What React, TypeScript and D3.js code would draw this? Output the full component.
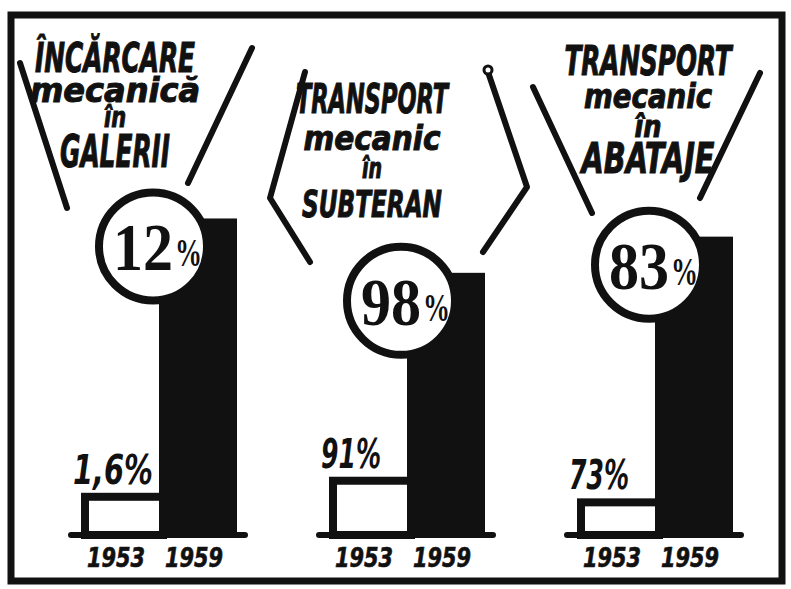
import React, { useEffect, useRef } from 'react';
import * as d3 from 'd3';

const years = ['1953', '1959'];
const titles = [
  ['ÎNCĂRCARE', 'mecanică', 'în', 'GALERII'],
  ['TRANSPORT', 'mecanic', 'în', 'SUBTERAN'],
  ['TRANSPORT', 'mecanic', 'în', 'ABATAJE'],
];
const share1953 = [1.6, 91, 73];
const share1959 = [12, 98, 83];
const labels1953 = ['1,6%', '91%', '73%'];
const labels1959 = ['12', '98', '83'];
// every panel has its own (broken) value axis, like in the original drawing
const axisDomains = [[0, 12.7], [89, 100.5], [71.6, 84.4]];

// title placement: anchor x, first baseline, line offsets, font sizes, line widths
const titleLayout = [
  { x: 115, y: 72, dy: [0, 30, 55, 95], size: [40, 34, 28, 44], len: [160, 170, 22, 110] },
  { x: 372, y: 113, dy: [0, 37, 65, 104], size: [40, 34, 28, 37], len: [152, 137, 20, 140] },
  { x: 648, y: 75, dy: [0, 33, 62, 98], size: [40, 34, 30, 42], len: [167, 128, 27, 133] },
];

// funnel / bracket strokes above each panel
const funnels = [
  [[[20, 63], [67, 208]], [[252, 48], [188, 183]]],
  [[[305, 72], [270, 198], [310, 262]], [[488, 72], [527, 187], [483, 252]]],
  [[[533, 87], [592, 213]], [[760, 73], [700, 198]]],
];

const W = 791, H = 589;
const baseY = 535, topY = 200;
const titleFont = '"DejaVu Sans Condensed", "DejaVu Sans", sans-serif';
const serifFont = '"Liberation Serif", "DejaVu Serif", serif';

export default function App() {
  const ref = useRef<SVGSVGElement>(null);

  useEffect(() => {
    const svg = d3.select(ref.current);
    svg.selectAll('*').remove();

    svg.append('rect').attr('width', W).attr('height', H).attr('fill', '#fff');

    // frame
    svg.append('rect')
      .attr('x', 11).attr('y', 15).attr('width', 771).attr('height', 566)
      .attr('fill', 'none').attr('stroke', '#111').attr('stroke-width', 7);

    const panelX = d3.scalePoint<number>().domain([0, 1, 2]).range([81, 577]);
    const xYear = d3.scaleBand().domain(years).range([0, 156]);
    const line = d3.line();

    titles.forEach((lines, i) => {
      const x0 = panelX(i)!;
      const y = d3.scaleLinear().domain(axisDomains[i]).range([baseY, topY]);
      const g = svg.append('g');

      // funnel strokes
      funnels[i].forEach(pts => {
        g.append('path')
          .attr('d', line(pts as [number, number][]))
          .attr('fill', 'none').attr('stroke', '#111').attr('stroke-width', 6)
          .attr('stroke-linecap', 'round').attr('stroke-linejoin', 'round');
      });
      if (i === 1) {
        const p = funnels[i][1][0];
        g.append('circle').attr('cx', p[0]).attr('cy', p[1] - 2).attr('r', 4)
          .attr('fill', '#fff').attr('stroke', '#111').attr('stroke-width', 3);
      }

      // title
      const tl = titleLayout[i];
      lines.forEach((t, k) => {
        g.append('text')
          .attr('x', tl.x).attr('y', tl.y + tl.dy[k])
          .attr('text-anchor', 'middle')
          .attr('font-family', titleFont)
          .attr('font-weight', 'bold').attr('font-style', 'italic')
          .attr('font-size', tl.size[k])
          .attr('textLength', tl.len[k]).attr('lengthAdjust', 'spacingAndGlyphs')
          .attr('fill', '#111').attr('stroke', '#111').attr('stroke-width', 1)
          .text(t);
      });

      // 1953 bar (outlined)
      const bx = x0 + xYear('1953')!;
      const bw = xYear.bandwidth();
      const yLow = y(share1953[i]);
      g.append('rect')
        .attr('x', bx + 4).attr('y', yLow + 4)
        .attr('width', bw).attr('height', baseY - yLow - 4)
        .attr('fill', '#fff').attr('stroke', '#111').attr('stroke-width', 8);

      // 1959 bar (solid)
      const dx = x0 + xYear('1959')!;
      const yHigh = y(share1959[i]);
      g.append('rect')
        .attr('x', dx).attr('y', yHigh)
        .attr('width', bw).attr('height', baseY - yHigh)
        .attr('fill', '#111');

      // ground line
      g.append('line')
        .attr('x1', x0 - 10).attr('x2', dx + bw + 8)
        .attr('y1', baseY).attr('y2', baseY)
        .attr('stroke', '#111').attr('stroke-width', 6).attr('stroke-linecap', 'round');

      // 1953 value
      g.append('text')
        .attr('x', bx - 8).attr('y', yLow - 9)
        .attr('font-family', titleFont)
        .attr('font-weight', 'bold').attr('font-style', 'italic')
        .attr('font-size', 40)
        .attr('textLength', labels1953[i].length * 20).attr('lengthAdjust', 'spacingAndGlyphs')
        .attr('fill', '#111')
        .text(labels1953[i]);

      // 1959 value in the bubble
      const cx = dx - 6, cy = yHigh + 28;
      g.append('circle').attr('cx', cx).attr('cy', cy).attr('r', 54)
        .attr('fill', '#fff').attr('stroke', '#111').attr('stroke-width', 8);
      g.append('text')
        .attr('x', cx + 20).attr('y', cy + 24)
        .attr('text-anchor', 'end')
        .attr('font-family', serifFont).attr('font-weight', 'bold')
        .attr('font-size', 68)
        .attr('textLength', 60).attr('lengthAdjust', 'spacingAndGlyphs')
        .attr('fill', '#111')
        .text(labels1959[i]);
      g.append('text')
        .attr('x', cx + 22).attr('y', cy + 20)
        .attr('font-family', serifFont).attr('font-weight', 'bold')
        .attr('font-size', 40)
        .attr('textLength', 27).attr('lengthAdjust', 'spacingAndGlyphs')
        .attr('fill', '#111')
        .text('%');

      // year labels
      years.forEach(yr => {
        g.append('text')
          .attr('x', x0 + xYear(yr)! + bw / 2 - 4).attr('y', 567)
          .attr('text-anchor', 'middle')
          .attr('font-family', titleFont)
          .attr('font-weight', 'bold').attr('font-style', 'italic')
          .attr('font-size', 26)
          .attr('textLength', 58).attr('lengthAdjust', 'spacingAndGlyphs')
          .attr('fill', '#111').attr('stroke', '#111').attr('stroke-width', 0.6)
          .text(yr);
      });
    });
  }, []);

  return (
    <svg ref={ref} width={W} height={H}
      style={{ position: 'absolute', left: 0, top: 0, display: 'block' }} />
  );
}
